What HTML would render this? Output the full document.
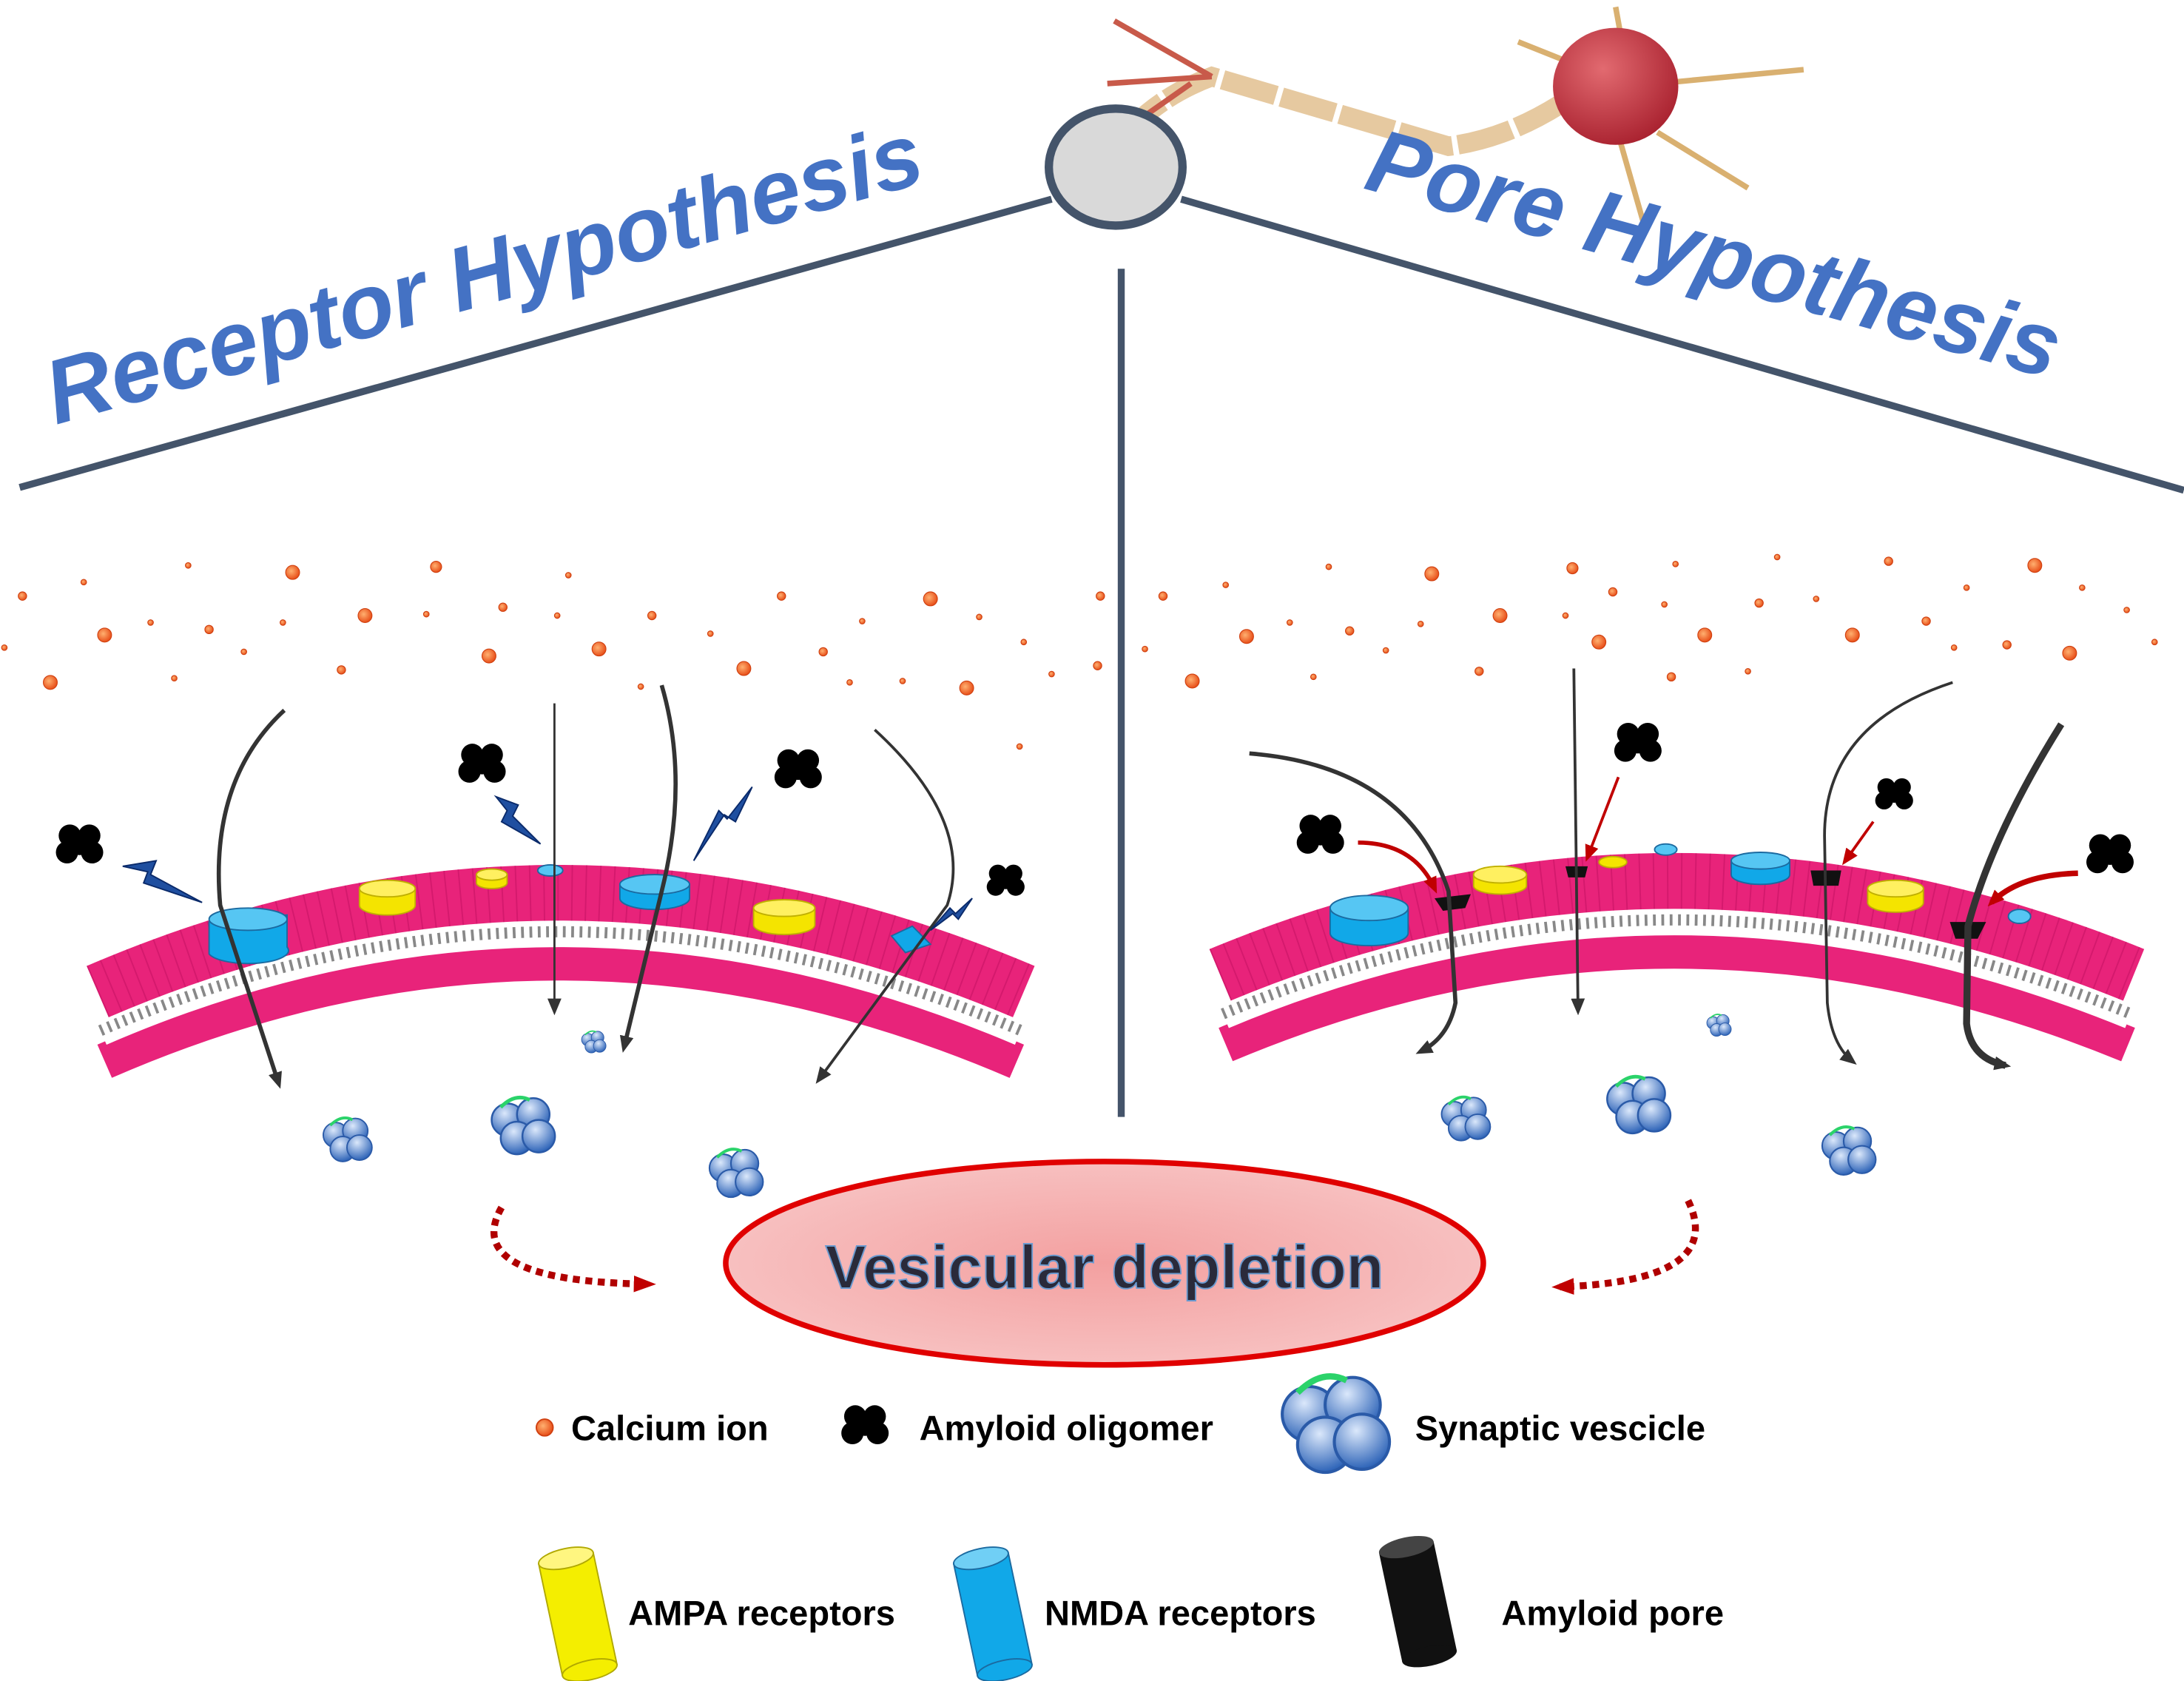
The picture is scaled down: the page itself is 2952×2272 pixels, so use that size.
<!DOCTYPE html>
<html><head><meta charset="utf-8"><style>
html,body{margin:0;padding:0;background:#fff;}
svg{display:block;}
text{font-family:"Liberation Sans",sans-serif;}
</style></head><body>
<svg width="2952" height="2272" viewBox="0 0 1568 1207" xmlns="http://www.w3.org/2000/svg">
<defs>
<radialGradient id="eg" cx="0.5" cy="0.5" r="0.6"><stop offset="0" stop-color="#f3a0a0"/><stop offset="1" stop-color="#f8c6c6"/></radialGradient>
<radialGradient id="ca" cx="0.4" cy="0.4" r="0.6"><stop offset="0" stop-color="#ffb070"/><stop offset="1" stop-color="#e8501a"/></radialGradient>
<radialGradient id="ves" cx="0.4" cy="0.3" r="0.7"><stop offset="0" stop-color="#dbe8fb"/><stop offset="1" stop-color="#2e64b8"/></radialGradient>
<radialGradient id="soma" cx="0.4" cy="0.35" r="0.7"><stop offset="0" stop-color="#e26a70"/><stop offset="1" stop-color="#a8202e"/></radialGradient>
<g id="olig"><circle cx="-7" cy="-6" r="8"/><circle cx="7" cy="-6" r="8"/><circle cx="-9" cy="6" r="8"/><circle cx="9" cy="6" r="8"/><circle cx="0" cy="0" r="8"/></g>
<g id="vsc"><circle cx="-8" cy="-3" r="9" fill="url(#ves)" stroke="#2a5aa8" stroke-width="1"/><circle cx="6" cy="-6" r="9" fill="url(#ves)" stroke="#2a5aa8" stroke-width="1"/><circle cx="-3" cy="7" r="9" fill="url(#ves)" stroke="#2a5aa8" stroke-width="1"/><circle cx="9" cy="6" r="9" fill="url(#ves)" stroke="#2a5aa8" stroke-width="1"/><path d="M-12,-10 Q-4,-18 4,-14" stroke="#2bd36a" stroke-width="2" fill="none"/></g>
<marker id="ah" markerUnits="userSpaceOnUse" markerWidth="12" markerHeight="12" refX="8" refY="6" orient="auto"><path d="M0,1 L12,6 L0,11 z" fill="#333"/></marker>
<marker id="rh" markerUnits="userSpaceOnUse" markerWidth="12" markerHeight="12" refX="8" refY="6" orient="auto"><path d="M0,1 L12,6 L0,11 z" fill="#c00000"/></marker>
<marker id="rh2" markerUnits="userSpaceOnUse" markerWidth="16" markerHeight="14" refX="10" refY="7" orient="auto"><path d="M0,1 L16,7 L0,13 z" fill="#c00000"/></marker>
</defs>

<line x1="14" y1="350" x2="755" y2="143" stroke="#44546a" stroke-width="5"/>
<line x1="848" y1="143" x2="1568" y2="352" stroke="#44546a" stroke-width="5"/>
<line x1="805" y1="193" x2="805" y2="802" stroke="#44546a" stroke-width="5"/>

<path d="M805,100 Q830,70 870,55 L1040,105 Q1080,100 1120,75" stroke="#e6c9a0" stroke-width="14" fill="none" stroke-dasharray="40,4"/>
<path d="M870,55 L800,15 M870,55 L795,60 M855,60 L805,95" stroke="#c85a4a" stroke-width="4" fill="none"/>
<path d="M1170,60 L1160,5 M1190,60 L1295,50 M1160,90 L1180,160 M1190,95 L1255,135 M1140,50 L1090,30" stroke="#d9b070" stroke-width="4" fill="none"/>
<ellipse cx="1160" cy="62" rx="45" ry="42" fill="url(#soma)"/>
<ellipse cx="801" cy="120" rx="48" ry="42" fill="#d9d9d9" stroke="#44546a" stroke-width="6"/>

<text x="40" y="305" transform="rotate(-15.6 40 305)" font-size="65" font-weight="bold" font-style="italic" fill="#4472c4">Receptor Hypothesis</text>
<text x="978" y="135" transform="rotate(15.5 978 135)" font-size="65" font-weight="bold" font-style="italic" fill="#4472c4">Pore Hypothesis</text>

<g fill="url(#ca)" stroke="#d04010" stroke-width="0.6">
<circle cx="16" cy="428" r="3"/><circle cx="60" cy="418" r="2"/><circle cx="75" cy="456" r="5"/><circle cx="36" cy="490" r="5"/><circle cx="3" cy="465" r="2"/><circle cx="108" cy="447" r="2"/><circle cx="135" cy="406" r="2"/><circle cx="150" cy="452" r="3"/><circle cx="125" cy="487" r="2"/><circle cx="175" cy="468" r="2"/><circle cx="210" cy="411" r="5"/><circle cx="203" cy="447" r="2"/><circle cx="245" cy="481" r="3"/><circle cx="262" cy="442" r="5"/><circle cx="313" cy="407" r="4"/><circle cx="306" cy="441" r="2"/><circle cx="351" cy="471" r="5"/><circle cx="361" cy="436" r="3"/><circle cx="408" cy="413" r="2"/><circle cx="400" cy="442" r="2"/><circle cx="430" cy="466" r="5"/><circle cx="468" cy="442" r="3"/><circle cx="460" cy="493" r="2"/><circle cx="510" cy="455" r="2"/><circle cx="534" cy="480" r="5"/><circle cx="561" cy="428" r="3"/><circle cx="591" cy="468" r="3"/><circle cx="610" cy="490" r="2"/><circle cx="619" cy="446" r="2"/><circle cx="648" cy="489" r="2"/><circle cx="668" cy="430" r="5"/><circle cx="694" cy="494" r="5"/><circle cx="703" cy="443" r="2"/><circle cx="735" cy="461" r="2"/><circle cx="755" cy="484" r="2"/><circle cx="790" cy="428" r="3"/><circle cx="788" cy="478" r="3"/><circle cx="732" cy="536" r="2"/>
<circle cx="835" cy="428" r="3"/><circle cx="822" cy="466" r="2"/><circle cx="856" cy="489" r="5"/><circle cx="880" cy="420" r="2"/><circle cx="895" cy="457" r="5"/><circle cx="926" cy="447" r="2"/><circle cx="943" cy="486" r="2"/><circle cx="954" cy="407" r="2"/><circle cx="969" cy="453" r="3"/><circle cx="995" cy="467" r="2"/><circle cx="1020" cy="448" r="2"/><circle cx="1028" cy="412" r="5"/><circle cx="1062" cy="482" r="3"/><circle cx="1077" cy="442" r="5"/><circle cx="1129" cy="408" r="4"/><circle cx="1124" cy="442" r="2"/><circle cx="1148" cy="461" r="5"/><circle cx="1158" cy="425" r="3"/><circle cx="1203" cy="405" r="2"/><circle cx="1195" cy="434" r="2"/><circle cx="1200" cy="486" r="3"/><circle cx="1224" cy="456" r="5"/><circle cx="1255" cy="482" r="2"/><circle cx="1263" cy="433" r="3"/><circle cx="1276" cy="400" r="2"/><circle cx="1304" cy="430" r="2"/><circle cx="1330" cy="456" r="5"/><circle cx="1356" cy="403" r="3"/><circle cx="1383" cy="446" r="3"/><circle cx="1403" cy="465" r="2"/><circle cx="1412" cy="422" r="2"/><circle cx="1441" cy="463" r="3"/><circle cx="1461" cy="406" r="5"/><circle cx="1486" cy="469" r="5"/><circle cx="1495" cy="422" r="2"/><circle cx="1527" cy="438" r="2"/><circle cx="1547" cy="461" r="2"/>
</g>

<g fill="none">
<path d="M75,762 Q400,620 730,762" stroke="#e8237a" stroke-width="26"/>
<path d="M72,740 Q400,598 733,740" stroke="#fff" stroke-width="22"/>
<path d="M72,740 Q400,598 733,740" stroke="#888" stroke-width="8" stroke-dasharray="2,4"/>
<path d="M70,712 Q400,570 735,712" stroke="#e8237a" stroke-width="40"/>
<path d="M70,712 Q400,570 735,712" stroke="#c01060" stroke-width="40" stroke-dasharray="1,9" opacity="0.5"/>
</g>
<g fill="none">
<path d="M880,750 Q1200,615 1528,750" stroke="#e8237a" stroke-width="26"/>
<path d="M878,728 Q1200,593 1530,728" stroke="#fff" stroke-width="22"/>
<path d="M878,728 Q1200,593 1530,728" stroke="#888" stroke-width="8" stroke-dasharray="2,4"/>
<path d="M876,700 Q1200,565 1532,700" stroke="#e8237a" stroke-width="40"/>
<path d="M876,700 Q1200,565 1532,700" stroke="#c01060" stroke-width="40" stroke-dasharray="1,9" opacity="0.5"/>
</g>

<g stroke="#1b6aa0" stroke-width="1">
<path d="M150,662 L150,685 A28,9 0 0 0 206,680 L206,657 Z" fill="#11a8e8"/><ellipse cx="178" cy="660" rx="28" ry="8" fill="#56c6f3"/>
<path d="M445,635 L445,645 A25,8 0 0 0 495,645 L495,635 Z" fill="#11a8e8"/><ellipse cx="470" cy="635" rx="25" ry="7" fill="#56c6f3"/>
<ellipse cx="395" cy="625" rx="9" ry="4" fill="#56c6f3"/>
<path d="M640,672 L655,665 L668,678 L650,684 Z" fill="#11a8e8"/>
</g>
<g stroke="#c0b000" stroke-width="1">
<path d="M258,638 L258,650 A20,7 0 0 0 298,650 L298,638 Z" fill="#f4e400"/><ellipse cx="278" cy="638" rx="20" ry="6" fill="#fff060"/>
<path d="M342,628 L342,634 A11,4 0 0 0 364,634 L364,628 Z" fill="#f4e400"/><ellipse cx="353" cy="628" rx="11" ry="4" fill="#fff060"/>
<path d="M541,652 L541,664 A22,7 0 0 0 585,664 L585,652 Z" fill="#f4e400"/><ellipse cx="563" cy="652" rx="22" ry="6" fill="#fff060"/>
</g>
<g stroke="#333" fill="none" stroke-width="3" marker-end="url(#ah)">
<path d="M204,510 Q150,560 158,650 L200,778"/>
<path d="M398,505 L398,725" stroke-width="1.5"/>
<path d="M475,492 Q495,560 475,640 L448,752"/>
<path d="M628,524 Q700,590 680,650 L588,775" stroke-width="2"/>
</g>
<g fill="#1f4fa0" stroke="#0a2a6a" stroke-width="1">
<path d="M88,622 L112,618 L108,628 L145,648 L103,634 L106,626 Z"/>
<path d="M356,572 L372,578 L368,586 L388,606 L360,590 L364,582 Z"/>
<path d="M540,565 L528,590 L520,585 L498,618 L516,582 L522,588 Z"/>
<path d="M698,645 L688,660 L684,656 L668,668 L682,652 L686,656 Z"/>
</g>
<g fill="#000"><use href="#olig" x="57" y="606"/><use href="#olig" x="346" y="548"/><use href="#olig" x="573" y="552"/><use href="#olig" x="722" y="632" transform="translate(722 632) scale(0.8) translate(-722 -632)"/></g>
<use href="#vsc" x="249" y="818"/><use href="#vsc" x="375" y="808" transform="translate(375 808) scale(1.3) translate(-375 -808)"/><use href="#vsc" x="528" y="842" transform="translate(528 842) scale(1.1) translate(-528 -842)"/><use href="#vsc" x="426" y="748" transform="translate(426 748) scale(0.5) translate(-426 -748)"/>

<g stroke="#1b6aa0" stroke-width="1">
<path d="M955,653 L955,670 A28,9 0 0 0 1011,670 L1011,653 Z" fill="#11a8e8"/><ellipse cx="983" cy="652" rx="28" ry="9" fill="#56c6f3"/>
<path d="M1243,618 L1243,628 A21,7 0 0 0 1285,628 L1285,618 Z" fill="#11a8e8"/><ellipse cx="1264" cy="618" rx="21" ry="6" fill="#56c6f3"/>
<ellipse cx="1196" cy="610" rx="8" ry="4" fill="#56c6f3"/><ellipse cx="1450" cy="658" rx="8" ry="5" fill="#56c6f3"/>
</g>
<g stroke="#c0b000" stroke-width="1">
<path d="M1058,628 L1058,636 A19,6 0 0 0 1096,636 L1096,628 Z" fill="#f4e400"/><ellipse cx="1077" cy="628" rx="19" ry="6" fill="#fff060"/>
<ellipse cx="1158" cy="619" rx="10" ry="4" fill="#f4e400"/>
<path d="M1341,638 L1341,648 A20,7 0 0 0 1381,648 L1381,638 Z" fill="#f4e400"/><ellipse cx="1361" cy="638" rx="20" ry="6" fill="#fff060"/>
</g>
<g fill="#111"><path d="M1030,645 L1056,642 L1052,652 L1036,654 Z"/><path d="M1124,622 L1140,622 L1138,630 L1126,630 Z"/><path d="M1300,625 L1322,625 L1320,636 L1302,636 Z"/><path d="M1400,662 L1426,662 L1420,674 L1404,674 Z"/></g>
<g stroke="#333" fill="none" stroke-width="3" marker-end="url(#ah)">
<path d="M897,541 Q1010,550 1040,640 L1045,720 Q1040,745 1020,755"/>
<path d="M1130,480 L1133,725" stroke-width="2"/>
<path d="M1402,490 Q1310,520 1310,600 L1312,720 Q1315,750 1330,762" stroke-width="2"/>
<path d="M1480,520 Q1430,600 1413,665 L1412,735 Q1415,760 1440,765" stroke-width="5"/>
</g>
<g stroke="#c00000" fill="none" stroke-width="3" marker-end="url(#rh)">
<path d="M975,605 Q1015,605 1030,638"/><path d="M1162,558 L1140,615" stroke-width="2"/><path d="M1345,590 L1325,618" stroke-width="2"/><path d="M1492,627 Q1450,628 1430,648" stroke-width="4"/>
</g>
<g fill="#000"><use href="#olig" x="1176" y="533"/><use href="#olig" x="948" y="599"/><use href="#olig" x="1360" y="570" transform="translate(1360 570) scale(0.8) translate(-1360 -570)"/><use href="#olig" x="1515" y="613"/></g>
<use href="#vsc" x="1052" y="803"/><use href="#vsc" x="1176" y="793" transform="translate(1176 793) scale(1.3) translate(-1176 -793)"/><use href="#vsc" x="1327" y="826" transform="translate(1327 826) scale(1.1) translate(-1327 -826)"/><use href="#vsc" x="1234" y="736" transform="translate(1234 736) scale(0.5) translate(-1234 -736)"/>

<path d="M360,867 Q330,920 465,922" stroke="#b00000" stroke-width="5" fill="none" stroke-dasharray="5,4" marker-end="url(#rh2)"/>
<path d="M1212,862 Q1240,920 1120,924" stroke="#b00000" stroke-width="5" fill="none" stroke-dasharray="5,4" marker-end="url(#rh2)"/>

<ellipse cx="793" cy="907" rx="272" ry="73" fill="url(#eg)" stroke="#e00000" stroke-width="4"/>
<text x="793" y="925" text-anchor="middle" font-size="44" font-weight="bold" fill="#2a2a3a" stroke="#6a9ad0" stroke-width="1">Vesicular depletion</text>

<circle cx="391" cy="1025" r="6" fill="url(#ca)" stroke="#d04010"/>
<text x="410" y="1034" font-size="25" font-weight="bold" fill="#000">Calcium ion</text>
<g fill="#000"><use href="#olig" x="621" y="1023"/></g>
<text x="660" y="1034" font-size="25" font-weight="bold">Amyloid oligomer</text>
<use href="#vsc" x="958" y="1022" transform="translate(958 1022) scale(2.2) translate(-958 -1022)"/>
<text x="1016" y="1034" font-size="25" font-weight="bold">Synaptic vescicle</text>

<g transform="rotate(-12 415 1160)"><rect x="395" y="1118" width="40" height="82" fill="#f4ee00" stroke="#b0a800"/><ellipse cx="415" cy="1118" rx="20" ry="7" fill="#fff680" stroke="#b0a800"/><ellipse cx="415" cy="1200" rx="20" ry="7" fill="#f4ee00" stroke="#b0a800"/></g>
<text x="451" y="1167" font-size="25" font-weight="bold">AMPA receptors</text>
<g transform="rotate(-12 713 1160)"><rect x="693" y="1118" width="40" height="82" fill="#11a8e8" stroke="#1b6aa0"/><ellipse cx="713" cy="1118" rx="20" ry="7" fill="#70cff5" stroke="#1b6aa0"/><ellipse cx="713" cy="1200" rx="20" ry="7" fill="#11a8e8" stroke="#1b6aa0"/></g>
<text x="750" y="1167" font-size="25" font-weight="bold">NMDA receptors</text>
<g transform="rotate(-12 1018 1150)"><rect x="998" y="1110" width="40" height="80" fill="#111"/><ellipse cx="1018" cy="1110" rx="20" ry="7" fill="#444"/><ellipse cx="1018" cy="1190" rx="20" ry="7" fill="#111"/></g>
<text x="1078" y="1167" font-size="25" font-weight="bold">Amyloid pore</text>
</svg>
</body></html>
